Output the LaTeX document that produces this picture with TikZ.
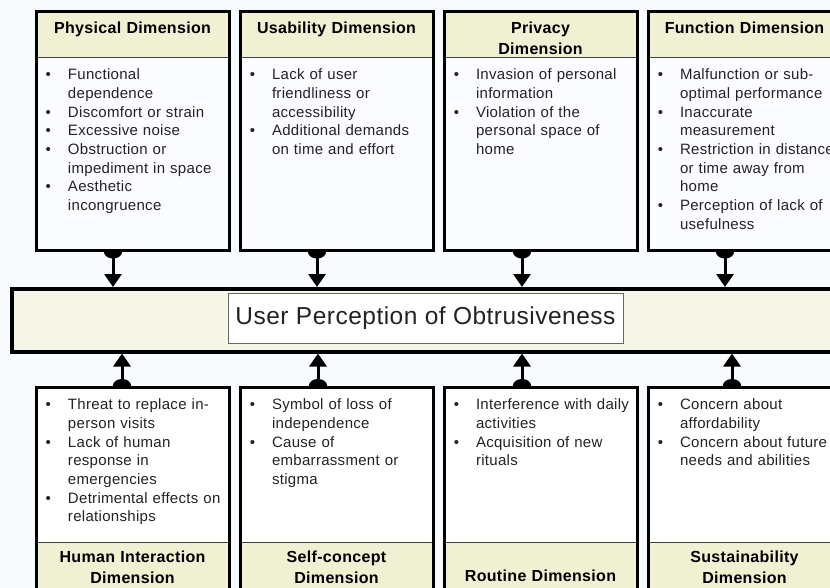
\documentclass[tikz,border=0pt]{standalone}
\usepackage{fontspec}
\setmainfont{Liberation Sans}[LetterSpace=2]
\usepackage{enumitem}
\usepackage{tikz}
\usetikzlibrary{positioning,arrows.meta,fit,backgrounds}
\definecolor{colorpage}{RGB}{248,251,254}
\definecolor{colorhead}{RGB}{240,240,210}
\definecolor{colorcore}{RGB}{246,246,232}
\definecolor{colorbody}{RGB}{250,252,255}
\definecolor{colortext}{RGB}{35,35,35}

\newcommand{\dimlist}[1]{%
  \begin{itemize}[leftmargin=24pt,labelsep=17pt,labelwidth=6pt,rightmargin=-30pt,nosep]#1\end{itemize}}

\begin{document}
\begin{tikzpicture}[
    x=1pt, y=-1pt,
    node distance = 11pt,
    dimhead/.style={rectangle,draw=black!75,line width=0.8pt,fill=colorhead,outer sep=0pt,
      inner xsep=4pt,inner ysep=3pt,text width=185pt,align=center,
      font={\fontsize{16pt}{21pt}\selectfont\bfseries},text height=19pt,text depth=20pt},
    foothead/.style={dimhead,text height=17pt,text depth=30pt},
    dimbody/.style={rectangle,draw=black!75,line width=0.8pt,fill=colorbody,outer sep=0pt,
      inner xsep=8pt,inner ysep=4pt,text width=177pt,align=left,text=colortext,
      font={\fontsize{15pt}{18.7pt}\selectfont},text height=-2.5pt,text depth=185.5pt},
    footbody/.style={dimbody,fill=white,text height=-1.5pt,text depth=147.5pt},
    dimframe/.style={rectangle,draw=black,line width=3pt,inner sep=0pt},
    corebox/.style={rectangle,draw=black,line width=3.5pt,fill=colorcore,minimum width=850pt,minimum height=63pt},
    titlebox/.style={rectangle,draw=black!60,line width=0.8pt,fill=white,text=colortext,
      minimum width=395pt,minimum height=50pt,font={\fontsize{24.5pt}{29pt}\selectfont}},
    link/.style={line width=3pt,{Circle[length=13pt,width=18pt]}-{Triangle[length=13pt,width=17pt]},shorten <=-6.5pt},
]
    \useasboundingbox (0,0) rectangle (830,588);
    \clip (0,0) rectangle (830,588);

    % Upper dimensions
    \node[dimhead, anchor=north west] (physhead) at (36,12) {Physical Dimension};
    \node[dimbody, below=0pt of physhead] (physbody) {\dimlist{
        \item Functional\\dependence
        \item Discomfort or strain
        \item Excessive noise
        \item Obstruction or\\impediment in space
        \item Aesthetic\\incongruence}};
    \node[dimframe, fit=(physhead)(physbody)] (physbox) {};

    \node[dimhead, right=of physhead] (usehead) {Usability Dimension};
    \node[dimbody, below=0pt of usehead] (usebody) {\dimlist{
        \item Lack of user\\friendliness or\\accessibility
        \item Additional demands\\on time and effort}};
    \node[dimframe, fit=(usehead)(usebody)] (usebox) {};

    \node[dimhead, right=of usehead] (privhead) {Privacy\\Dimension};
    \node[dimbody, below=0pt of privhead] (privbody) {\dimlist{
        \item Invasion of personal\\information
        \item Violation of the\\personal space of\\home}};
    \node[dimframe, fit=(privhead)(privbody)] (privbox) {};

    \node[dimhead, right=of privhead] (funchead) {Function Dimension};
    \node[dimbody, below=0pt of funchead] (funcbody) {\dimlist{
        \item Malfunction or sub-\\optimal performance
        \item Inaccurate\\measurement
        \item Restriction in distance\\or time away from\\home
        \item Perception of lack of\\usefulness}};
    \node[dimframe, fit=(funchead)(funcbody)] (funcbox) {};

    % Core concept
    \node[corebox, anchor=north west] (core) at (10,287) {};
    \node[titlebox] (title) at (425.5,318) {User Perception of Obtrusiveness};

    % Lower dimensions
    \node[footbody, anchor=north west] (humanbody) at (36,387) {\dimlist{
        \item Threat to replace in-\\person visits
        \item Lack of human\\response in\\emergencies
        \item Detrimental effects on\\relationships}};
    \node[foothead, below=0pt of humanbody] (humanhead) {Human Interaction\\Dimension};
    \node[dimframe, fit=(humanbody)(humanhead)] (humanbox) {};

    \node[footbody, right=of humanbody] (selfbody) {\dimlist{
        \item Symbol of loss of\\independence
        \item Cause of\\embarrassment or\\stigma}};
    \node[foothead, below=0pt of selfbody] (selfhead) {Self-concept\\Dimension};
    \node[dimframe, fit=(selfbody)(selfhead)] (selfbox) {};

    \node[footbody, right=of selfbody] (routinebody) {\dimlist{
        \item Interference with daily\\activities
        \item Acquisition of new\\rituals}};
    \node[foothead, below=0pt of routinebody, text height=36pt, text depth=11pt] (routinehead) {Routine Dimension};
    \node[dimframe, fit=(routinebody)(routinehead)] (routinebox) {};

    \node[footbody, right=of routinebody] (sustbody) {\dimlist{
        \item Concern about\\affordability
        \item Concern about future\\needs and abilities}};
    \node[foothead, below=0pt of sustbody] (susthead) {Sustainability\\Dimension};
    \node[dimframe, fit=(sustbody)(susthead)] (sustbox) {};

    % Relations
    \begin{pgfonlayer}{background}
    \fill[colorpage] (0,0) rectangle (830,588);
    \draw[link] ([xshift=-19.5pt]physbox.south) -- ([xshift=-19.5pt]physbox.south |- core.north);
    \draw[link] ([xshift=-19.5pt]usebox.south) -- ([xshift=-19.5pt]usebox.south |- core.north);
    \draw[link] ([xshift=-18.5pt]privbox.south) -- ([xshift=-18.5pt]privbox.south |- core.north);
    \draw[link] ([xshift=-19.5pt]funcbox.south) -- ([xshift=-19.5pt]funcbox.south |- core.north);

    \draw[link] ([xshift=-10.5pt]humanbox.north) -- ([xshift=-10.5pt]humanbox.north |- core.south);
    \draw[link] ([xshift=-18.5pt]selfbox.north) -- ([xshift=-18.5pt]selfbox.north |- core.south);
    \draw[link] ([xshift=-18.5pt]routinebox.north) -- ([xshift=-18.5pt]routinebox.north |- core.south);
    \draw[link] ([xshift=-12.5pt]sustbox.north) -- ([xshift=-12.5pt]sustbox.north |- core.south);
    \end{pgfonlayer}

\end{tikzpicture}
\end{document}
